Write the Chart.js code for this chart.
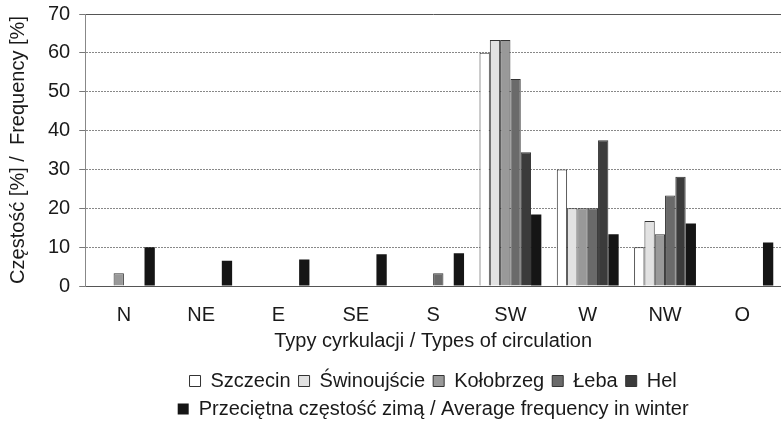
<!DOCTYPE html>
<html>
<head>
<meta charset="utf-8">
<script src="https://cdn.jsdelivr.net/npm/chart.js@4"></script>
<style>
  body { margin: 0; background: #fff; }
  #wrap { width: 781px; height: 425px; }
</style>
</head>
<body>
<div id="wrap"><canvas id="mychart"></canvas></div>
<script>
const labels = ["N", "NE", "E", "SE", "S", "SW", "W", "NW", "O"];

const szczecin = [0, 0, 0, 0, 0, 60, 30, 10, 0];
const swinoujscie = [0, 0, 0, 0, 0, 63.3, 20, 16.7, 0];
const kolobrzeg = [3.3, 0, 0, 0, 0, 63.3, 20, 13.3, 0];
const leba = [0, 0, 0, 0, 3.3, 53.3, 20, 23.3, 0];
const hel = [0, 0, 0, 0, 0, 34.4, 37.5, 28.1, 0];
const average = [10, 6.5, 6.8, 8.2, 8.4, 18.4, 13.3, 16.1, 11.2];

const yTicks = [0, 10, 20, 30, 40, 50, 60, 70];

const font = "'Liberation Sans', Arial, sans-serif";
const ctx = document.getElementById("mychart").getContext("2d");

const station = (label, data, color) => ({
  label,
  data,
  backgroundColor: color,
  borderColor: "#333",
  borderWidth: 1,
});

const data = {
  labels,
  datasets: [
    station("Szczecin", szczecin, "#ffffff"),
    station("Świnoujście", swinoujscie, "#e2e2e2"),
    station("Kołobrzeg", kolobrzeg, "#999999"),
    station("Łeba", leba, "#6a6a6a"),
    station("Hel", hel, "#3b3b3b"),
    {
      label: "Przeciętna częstość zimą / Average frequency in winter",
      data: average,
      backgroundColor: "#151515",
      borderWidth: 0,
    },
  ],
};

const config = {
  type: "bar",
  data: data,
  options: {
    responsive: true,
    maintainAspectRatio: false,
    animation: false,
    layout: { padding: { top: 0, left: 6, right: 0, bottom: -4 } },
    datasets: {
      bar: { categoryPercentage: 0.8, barPercentage: 1.0 },
    },
    plugins: {
      tooltip: { enabled: false },
      legend: {
        position: "bottom",
        fullSize: false,
        labels: {
          color: "#1a1a1a",
          font: { family: font, size: 20 },
          boxWidth: 11,
          boxHeight: 11,
          padding: 8,
        },
      },
    },
    scales: {
      x: {
        grid: {
          drawOnChartArea: false,
          drawTicks: true,
          tickLength: 17,
          tickColor: "rgba(0,0,0,0)",
        },
        border: { color: "#555", width: 1 },
        ticks: { color: "#1a1a1a", font: { family: font, size: 20 }, padding: 0 },
        title: {
          display: true,
          text: "Typy cyrkulacji / Types of circulation",
          color: "#1a1a1a",
          font: { family: font, size: 20 },
          padding: { top: 2, bottom: 10 },
        },
      },
      y: {
        min: 0,
        max: 70,
        afterBuildTicks: (axis) => {
          axis.ticks = yTicks.map((v) => ({ value: v }));
        },
        grid: {
          drawTicks: true,
          tickLength: 6,
          tickColor: "#777",
          color: (c) => (c.tick && c.tick.value === 70 ? "#555" : c.tick && c.tick.value === 0 ? "rgba(0,0,0,0)" : "#888"),
          lineWidth: 1,
        },
        border: {
          color: "#888",
          width: 1,
          dash: (c) => (c.tick && c.tick.value > 0 && c.tick.value < 70 ? [2, 1] : []),
        },
        ticks: { color: "#1a1a1a", font: { family: font, size: 20, lineHeight: 0.5 }, padding: 9 },
        title: {
          display: true,
          text: "Częstość [%] /  Frequency [%]",
          color: "#1a1a1a",
          font: { family: font, size: 20 },
          padding: { top: 0, bottom: 9 },
        },
      },
    },
  },
};

const myChart = new Chart(ctx, config);
</script>
</body>
</html>
